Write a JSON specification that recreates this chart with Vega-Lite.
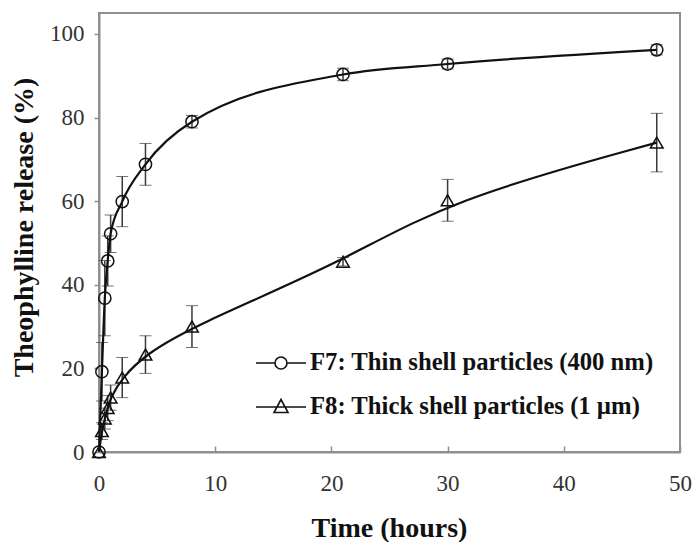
{
  "$schema": "https://vega.github.io/schema/vega-lite/v6.json",
  "width": 581,
  "height": 439,
  "autosize": {"type": "none"},
  "padding": {"left": 99, "top": 13, "right": 14, "bottom": 90},
  "background": "white",
  "config": {
    "view": {"stroke": "#8f8f8f", "strokeWidth": 2},
    "font": "Liberation Serif"
  },
  "data": {
    "values": [
      {"series": "F7: Thin shell particles (400 nm)", "t": 0, "v": 0, "e": 0},
      {"series": "F7: Thin shell particles (400 nm)", "t": 0.25, "v": 19.2, "e": 7},
      {"series": "F7: Thin shell particles (400 nm)", "t": 0.5, "v": 36.8, "e": 9},
      {"series": "F7: Thin shell particles (400 nm)", "t": 0.75, "v": 45.7, "e": 6},
      {"series": "F7: Thin shell particles (400 nm)", "t": 1, "v": 52.2, "e": 4.5},
      {"series": "F7: Thin shell particles (400 nm)", "t": 2, "v": 59.9, "e": 6},
      {"series": "F7: Thin shell particles (400 nm)", "t": 4, "v": 68.8, "e": 5},
      {"series": "F7: Thin shell particles (400 nm)", "t": 8, "v": 79, "e": 1.5},
      {"series": "F7: Thin shell particles (400 nm)", "t": 21, "v": 90.3, "e": 1.5},
      {"series": "F7: Thin shell particles (400 nm)", "t": 30, "v": 92.8, "e": 1.2},
      {"series": "F7: Thin shell particles (400 nm)", "t": 48, "v": 96.2, "e": 1.2},
      {"series": "F8: Thick shell particles (1 µm)", "t": 0, "v": 0, "e": 0},
      {"series": "F8: Thick shell particles (1 µm)", "t": 0.25, "v": 5, "e": 2},
      {"series": "F8: Thick shell particles (1 µm)", "t": 0.5, "v": 8, "e": 2.5},
      {"series": "F8: Thick shell particles (1 µm)", "t": 0.75, "v": 10.5, "e": 3},
      {"series": "F8: Thick shell particles (1 µm)", "t": 1, "v": 13, "e": 3},
      {"series": "F8: Thick shell particles (1 µm)", "t": 2, "v": 17.8, "e": 4.8},
      {"series": "F8: Thick shell particles (1 µm)", "t": 4, "v": 23.3, "e": 4.5},
      {"series": "F8: Thick shell particles (1 µm)", "t": 8, "v": 30, "e": 5},
      {"series": "F8: Thick shell particles (1 µm)", "t": 21, "v": 45.5, "e": 1},
      {"series": "F8: Thick shell particles (1 µm)", "t": 30, "v": 60.2, "e": 5},
      {"series": "F8: Thick shell particles (1 µm)", "t": 48, "v": 74, "e": 7}
    ]
  },
  "encoding": {
    "x": {
      "field": "t", "type": "quantitative",
      "scale": {"domain": [0, 50], "nice": false, "zero": false},
      "axis": {
        "title": "Time (hours)", "values": [0, 10, 20, 30, 40, 50],
        "grid": false, "domainColor": "#8f8f8f", "domainWidth": 2,
        "tickColor": "#8f8f8f", "tickWidth": 1.5, "tickSize": -6,
        "labelFont": "Liberation Serif", "labelFontSize": 23, "labelColor": "#333333",
        "labelPadding": 26, "labelFlush": false,
        "titleFont": "Liberation Serif", "titleFontSize": 28, "titleFontWeight": "bold",
        "titleColor": "#111111", "titleX": 290, "titleY": 76, "titleBaseline": "middle", "titleAlign": "center"
      }
    },
    "y": {
      "field": "v", "type": "quantitative",
      "scale": {"domain": [0, 105], "nice": false},
      "axis": {
        "title": "Theophylline release (%)", "values": [0, 20, 40, 60, 80, 100],
        "grid": false, "domainColor": "#8f8f8f", "domainWidth": 2,
        "tickColor": "#8f8f8f", "tickWidth": 1.5, "tickSize": 5,
        "labelFont": "Liberation Serif", "labelFontSize": 23, "labelColor": "#333333",
        "labelPadding": 10, "labelFlush": false,
        "titleFont": "Liberation Serif", "titleFontSize": 28, "titleFontWeight": "bold",
        "titleColor": "#111111", "titleX": -75, "titleY": 214, "titleAngle": -90,
        "titleBaseline": "middle", "titleAlign": "center"
      }
    }
  },
  "layer": [
    {
      "transform": [{"filter": "datum.e > 0"}],
      "mark": {
        "type": "errorbar",
        "ticks": {"size": 12, "color": "#3a3a3a", "strokeWidth": 1.5},
        "rule": {"color": "#3a3a3a", "strokeWidth": 1.5}
      },
      "encoding": {
        "yError": {"field": "e"}
      }
    },
    {
      "transform": [{"filter": "indexof(datum.series, 'F7') === 0"}],
      "mark": {"type": "line", "interpolate": "monotone", "color": "#111111", "strokeWidth": 2.2},
      "encoding": {}
    },
    {
      "transform": [{"filter": "indexof(datum.series, 'F8') === 0"}],
      "mark": {"type": "line", "interpolate": "basis", "color": "#111111", "strokeWidth": 2.2},
      "encoding": {}
    },
    {
      "transform": [{"filter": "indexof(datum.series, 'F7') === 0"}],
      "mark": {"type": "point", "shape": "circle", "filled": false, "color": "#111111", "strokeWidth": 1.5, "size": 150, "opacity": 1},
      "encoding": {}
    },
    {
      "transform": [{"filter": "indexof(datum.series, 'F8') === 0"}],
      "mark": {"type": "point", "shape": "triangle-up", "filled": false, "color": "#111111", "strokeWidth": 1.5, "size": 160, "opacity": 1},
      "encoding": {}
    },
    {
      "mark": {"type": "point", "filled": false, "color": "#111111", "strokeWidth": 1.6, "opacity": 0},
      "encoding": {
        "shape": {
          "field": "series", "type": "nominal",
          "scale": {"range": [
            "M-1,0H-0.24M0.24,0H1M0.24,0A0.24,0.24 0 1,1 -0.24,0A0.24,0.24 0 1,1 0.24,0",
            "M-1,0H1M0,-0.3L0.28,0.22L-0.28,0.22Z"
          ]},
          "legend": {
            "title": null,
            "orient": "none",
            "legendX": 156,
            "legendY": 324,
            "symbolSize": 2500,
            "symbolOpacity": 1,
            "symbolStrokeColor": "#111111",
            "symbolFillColor": "transparent",
            "symbolStrokeWidth": 1.6,
            "labelFont": "Liberation Serif",
            "labelFontSize": 24.7,
            "labelFontWeight": "bold",
            "labelColor": "#111111",
            "labelOffset": 3,
            "labelLimit": 500,
            "rowPadding": 6
          }
        }
      }
    }
  ]
}
